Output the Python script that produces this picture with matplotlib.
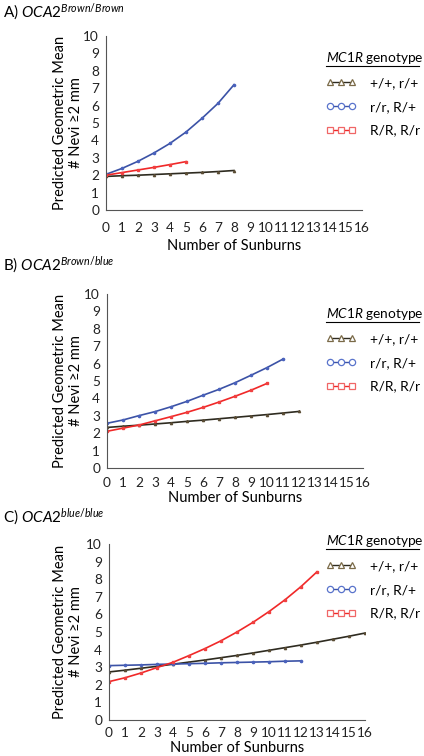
import matplotlib.pyplot as plt
from matplotlib.lines import Line2D
import numpy as np

plt.rcParams['font.family'] = ['Lato', 'DejaVu Sans']
plt.rcParams['mathtext.fontset'] = 'custom'
plt.rcParams['mathtext.it'] = 'Lato:italic'
plt.rcParams['mathtext.rm'] = 'Lato'

# A) OCA2 Brown/Brown
a_black = [1.93, 1.97, 2.00, 2.04, 2.08, 2.12, 2.16, 2.21, 2.27]
a_blue = [2.05, 2.39, 2.80, 3.28, 3.83, 4.48, 5.27, 6.13, 7.20]
a_red = [2.00, 2.15, 2.30, 2.45, 2.61, 2.78]

# B) OCA2 Brown/blue
b_black = [2.33, 2.40, 2.46, 2.53, 2.60, 2.68, 2.75, 2.83, 2.91, 2.99, 3.07, 3.16, 3.25]
b_blue = [2.57, 2.76, 3.01, 3.24, 3.52, 3.83, 4.18, 4.52, 4.90, 5.33, 5.77, 6.26]
b_red = [2.11, 2.29, 2.47, 2.71, 2.95, 3.20, 3.48, 3.79, 4.12, 4.47, 4.86]

# C) OCA2 blue/blue
c_black = [2.73, 2.83, 2.94, 3.05, 3.17, 3.29, 3.41, 3.54, 3.67, 3.81, 3.96, 4.11,
           4.26, 4.42, 4.59, 4.76, 4.94]
c_blue = [3.09, 3.11, 3.13, 3.16, 3.18, 3.20, 3.22, 3.25, 3.27, 3.29, 3.31, 3.34, 3.36]
c_red = [2.18, 2.40, 2.67, 2.98, 3.28, 3.66, 4.06, 4.50, 5.00, 5.55, 6.16, 6.83,
         7.58, 8.42]

labels = ['+/+, r/+', 'r/r, R/+', 'R/R, R/r']
titles = ['A) ', 'B) ', 'C) ']
supers = ['Brown/Brown', 'Brown/blue', 'blue/blue']
panels = [(a_black, a_blue, a_red), (b_black, b_blue, b_red), (c_black, c_blue, c_red)]

W, H = 424, 756
fig = plt.figure(figsize=(W / 100, H / 100), dpi=100)

# pixel layout: axes left, top (y=10), bottom (y=0), title y, legend title y,
# x tick pad, x label pad
boxes = [(106, 36, 210, 12, 58, 9, 3), (107, 294, 468, 265, 314, 6.5, 1.5),
         (109, 544, 720, 517, 541, 5, 1.5)]

colors = ['#2e2b20', '#3b52a6', '#f02828']
mcol = ['#5a4c34', '#4a62bc', '#f04040']
legcol = ['#7a6a48', '#5a74cc', '#f06666']
markers = ['^', 'o', 's']

for (left, top, bot, ty, ly, xp, lp), data, t, s in zip(boxes, panels, titles, supers):
    ax = fig.add_axes([left / W, 1 - bot / H, 256 / W, (bot - top) / H])
    for y, c, mc, m in zip(data, colors, mcol, markers):
        x = np.arange(len(y))
        ax.plot(x, y, color=c, lw=1.2, marker=m, ms=1.6, mfc=mc, mec=mc)
    ax.set_xlim(0, 16)
    ax.set_ylim(0, 10)
    ax.set_xticks(range(17))
    ax.set_yticks(range(11))
    ax.tick_params(length=0, labelsize=9.8, colors='#222222')
    ax.tick_params(axis='x', pad=xp)
    ax.tick_params(axis='y', pad=5)
    ax.spines['top'].set_visible(False)
    ax.spines['right'].set_visible(False)
    ax.spines['left'].set_color('#555555')
    ax.spines['left'].set_linewidth(0.8)
    ax.spines['bottom'].set_color('#555555')
    ax.spines['bottom'].set_linewidth(0.8)
    ax.spines['bottom'].set_linestyle((0, (1, 1)))
    ax.set_xlabel('Number of Sunburns', fontsize=10.5, labelpad=lp)
    fig.text(68 / W, 1 - (top + bot) / 2 / H, 'Predicted Geometric Mean\n# Nevi \u22652 mm',
             rotation=90, ha='center', va='center', fontsize=10.5, linespacing=1.1)
    fig.text(3 / W, 1 - ty / H, t + r'$\mathit{OCA2}^{\mathit{' + s + '}}$',
             ha='left', va='center', fontsize=11)
    # legend title with underline
    fig.text(326 / W, 1 - ly / H, r'$\mathit{MC1R}$ genotype', ha='left',
             va='center', fontsize=9.8)
    fig.add_artist(Line2D([326 / W, 419 / W], [1 - (ly + 8) / H] * 2, color='black',
                          lw=0.8, transform=fig.transFigure))
    handles = [Line2D([], [], color=c, lw=1.0, marker=m, ms=4.5, mfc='white', mec=lc,
                      mew=0.9)
               for c, lc, m in zip(colors, legcol, markers)]
    fig.legend(handles, labels, loc='upper left',
               bbox_to_anchor=(326 / W, 1 - (ly + 19) / H), frameon=False,
               numpoints=3, handlelength=2.2, handletextpad=0.95, labelspacing=0.85,
               fontsize=10, borderaxespad=0, borderpad=0)

fig.savefig('out.png', dpi=100)
